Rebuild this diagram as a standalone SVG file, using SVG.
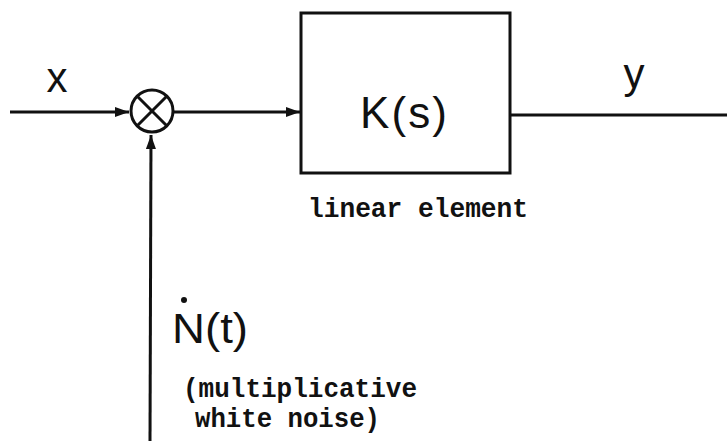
<svg xmlns="http://www.w3.org/2000/svg" width="727" height="441" viewBox="0 0 727 441">
<style>
.ln{stroke:#111;stroke-width:3;fill:none}
.sym{font-family:"Liberation Sans","DejaVu Sans",sans-serif;fill:#111}
.mono{font-family:"Liberation Mono","DejaVu Sans Mono",monospace;font-weight:bold;fill:#111;font-size:27px}
</style>
<defs>
<marker id="arr" viewBox="0 0 14 10" refX="14" refY="5" markerWidth="14" markerHeight="10" markerUnits="userSpaceOnUse" orient="auto">
<path d="M0,0 L14,5 L0,10 Z" fill="#111"/>
</marker>
</defs>
<g id="connectors">
<line class="ln" x1="10" y1="112" x2="129" y2="112" marker-end="url(#arr)"/>
<line class="ln" x1="174" y1="112" x2="300" y2="112" marker-end="url(#arr)"/>
<line class="ln" x1="150" y1="441" x2="151" y2="135" marker-end="url(#arr)"/>
<line class="ln" x1="510" y1="115" x2="727" y2="115"/>
</g>
<g id="multiplier">
<circle class="ln" cx="152" cy="111" r="21"/>
<line class="ln" x1="137" y1="96" x2="167" y2="126"/>
<line class="ln" x1="167" y1="96" x2="137" y2="126"/>
</g>
<g id="linear-element">
<rect class="ln" x="301" y="13" width="209" height="160"/>
<text class="sym" x="360" y="128" font-size="44" textLength="87" lengthAdjust="spacing">K(s)</text>
<text class="mono" x="308" y="217" textLength="220" lengthAdjust="spacingAndGlyphs">linear element</text>
</g>
<g id="labels">
<text class="sym" x="57" y="92" font-size="42" text-anchor="middle">x</text>
<text class="sym" x="634" y="88" font-size="42" text-anchor="middle">y</text>
<text class="sym" x="172" y="343" font-size="43" textLength="76" lengthAdjust="spacingAndGlyphs">N(t)</text>
<circle cx="184" cy="300" r="3" fill="#111"/>
<text class="mono" x="183" y="397" textLength="234" lengthAdjust="spacingAndGlyphs">(multiplicative</text>
<text class="mono" x="195" y="427" textLength="185" lengthAdjust="spacingAndGlyphs">white noise)</text>
</g>
</svg>
